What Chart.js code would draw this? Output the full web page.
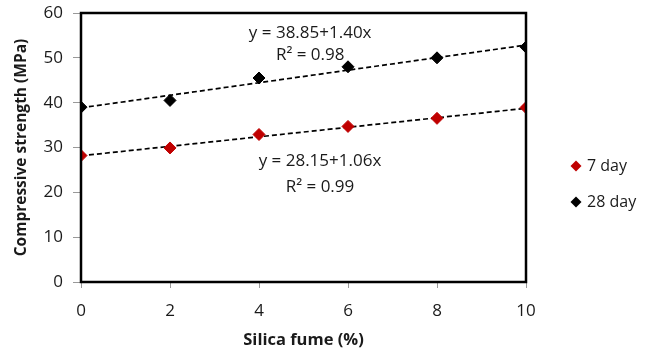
<!DOCTYPE html>
<html lang="en">
  <head>
    <meta charset="UTF-8" />
    <title>Compressive strength vs silica fume</title>
    <script src="https://cdn.jsdelivr.net/npm/chart.js@4"></script>
    <style>
      html, body { margin: 0; padding: 0; background: #fff; }
      #wrap { width: 657px; height: 353px; }
    </style>
  </head>
  <body>
    <div id="wrap"><canvas id="strengthChart"></canvas></div>

    <script>
      // silica fume content (%)
      const silicaFume = [0, 2, 4, 6, 8, 10];
      const day7 = [28.2, 29.9, 32.9, 34.7, 36.5, 38.9];
      const day28 = [39.0, 40.5, 45.5, 48.0, 50.0, 52.4];

      // linear fits printed on the plot
      const fit7 = { intercept: 28.15, slope: 1.06, r2: '0.99' };
      const fit28 = { intercept: 38.85, slope: 1.40, r2: '0.98' };

      const xTicks = [0, 2, 4, 6, 8, 10];
      const yTicks = [0, 10, 20, 30, 40, 50, 60];

      const FONT = '"Open Sans", sans-serif';
      const RED = '#c00000';
      const INK = '#1a1a1a';

      const toPoints = (xs, ys) => xs.map((x, i) => ({ x: x, y: ys[i] }));
      const fitLine = (f) => [0, 10].map((x) => ({ x: x, y: f.intercept + f.slope * x }));

      // equation labels, placed in data units
      const eqLabels = [
        { text: 'y = 38.85+1.40x', x: 5.15, y: 55.6 },
        { text: 'R\u00b2 = ' + fit28.r2, x: 5.15, y: 50.6 },
        { text: 'y = 28.15+1.06x', x: 5.37, y: 27.0 },
        { text: 'R\u00b2 = ' + fit7.r2, x: 5.37, y: 21.2 }
      ];

      const frameAndText = {
        id: 'frameAndText',
        afterDatasetsDraw(chart) {
          const { ctx, chartArea: a, scales } = chart;
          ctx.save();
          ctx.strokeStyle = '#000';
          ctx.lineWidth = 2.5;
          ctx.strokeRect(a.left, a.top, a.right - a.left, a.bottom - a.top);

          ctx.fillStyle = INK;
          ctx.font = '17px ' + FONT;
          ctx.textAlign = 'center';
          ctx.textBaseline = 'middle';
          eqLabels.forEach((l) => {
            ctx.fillText(l.text, scales.x.getPixelForValue(l.x), scales.y.getPixelForValue(l.y));
          });

          // legend
          const items = [
            { label: '7 day', color: RED, y: 166 },
            { label: '28 day', color: '#000', y: 202 }
          ];
          ctx.textAlign = 'left';
          ctx.font = '16px ' + FONT;
          items.forEach((it) => {
            const cx = 576, r = 5.5;
            ctx.fillStyle = it.color;
            ctx.beginPath();
            ctx.moveTo(cx, it.y - r);
            ctx.lineTo(cx + r, it.y);
            ctx.lineTo(cx, it.y + r);
            ctx.lineTo(cx - r, it.y);
            ctx.closePath();
            ctx.fill();
            ctx.fillStyle = INK;
            ctx.fillText(it.label, 587, it.y);
          });
          ctx.restore();
        }
      };

      const trendStyle = {
        type: 'line',
        borderColor: '#000',
        borderWidth: 1.7,
        borderDash: [5, 3],
        pointRadius: 0,
        fill: false
      };

      new Chart(document.getElementById('strengthChart'), {
        type: 'scatter',
        data: {
          datasets: [
            Object.assign({ label: 'fit 28', data: fitLine(fit28), order: 2 }, trendStyle),
            Object.assign({ label: 'fit 7', data: fitLine(fit7), order: 2 }, trendStyle),
            {
              label: '7 day',
              data: toPoints(silicaFume, day7),
              backgroundColor: RED,
              borderColor: RED,
              pointStyle: 'rectRot',
              pointRadius: 6,
              order: 1
            },
            {
              label: '28 day',
              data: toPoints(silicaFume, day28),
              backgroundColor: '#000',
              borderColor: '#000',
              pointStyle: 'rectRot',
              pointRadius: 6,
              order: 1
            }
          ]
        },
        options: {
          responsive: true,
          maintainAspectRatio: false,
          animation: false,
          layout: { padding: { top: 13, right: 131, left: 8, bottom: 0 } },
          plugins: { legend: { display: false }, tooltip: { enabled: false } },
          scales: {
            x: {
              type: 'linear',
              min: 0,
              max: 10,
              afterBuildTicks: (s) => { s.ticks = xTicks.map((v) => ({ value: v })); },
              afterFit: (s) => { s.height = 71; s.paddingLeft = 0; s.paddingRight = 0; },
              grid: { drawOnChartArea: false, tickLength: 6, color: '#999' },
              border: { color: '#000', width: 2 },
              ticks: { color: INK, font: { family: FONT, size: 17 }, padding: 13, maxRotation: 0 },
              title: {
                display: true,
                text: 'Silica fume (%)',
                color: INK,
                font: { family: FONT, size: 16.5, weight: 'bold' },
                padding: { top: 0, bottom: 3 }
              }
            },
            y: {
              min: 0,
              max: 60,
              afterBuildTicks: (s) => { s.ticks = yTicks.map((v) => ({ value: v })); },
              afterFit: (s) => { s.width = 73; s.paddingTop = 0; s.paddingBottom = 0; },
              grid: { drawOnChartArea: false, tickLength: 8, color: '#999' },
              border: { color: '#000', width: 2 },
              ticks: { color: INK, font: { family: FONT, size: 17 }, padding: 10 },
              title: {
                display: true,
                text: 'Compressive strength (MPa)',
                color: INK,
                font: { family: FONT, size: 15.5, weight: 'bold' },
                padding: { bottom: 2 }
              }
            }
          }
        },
        plugins: [frameAndText]
      });
    </script>
  </body>
</html>
